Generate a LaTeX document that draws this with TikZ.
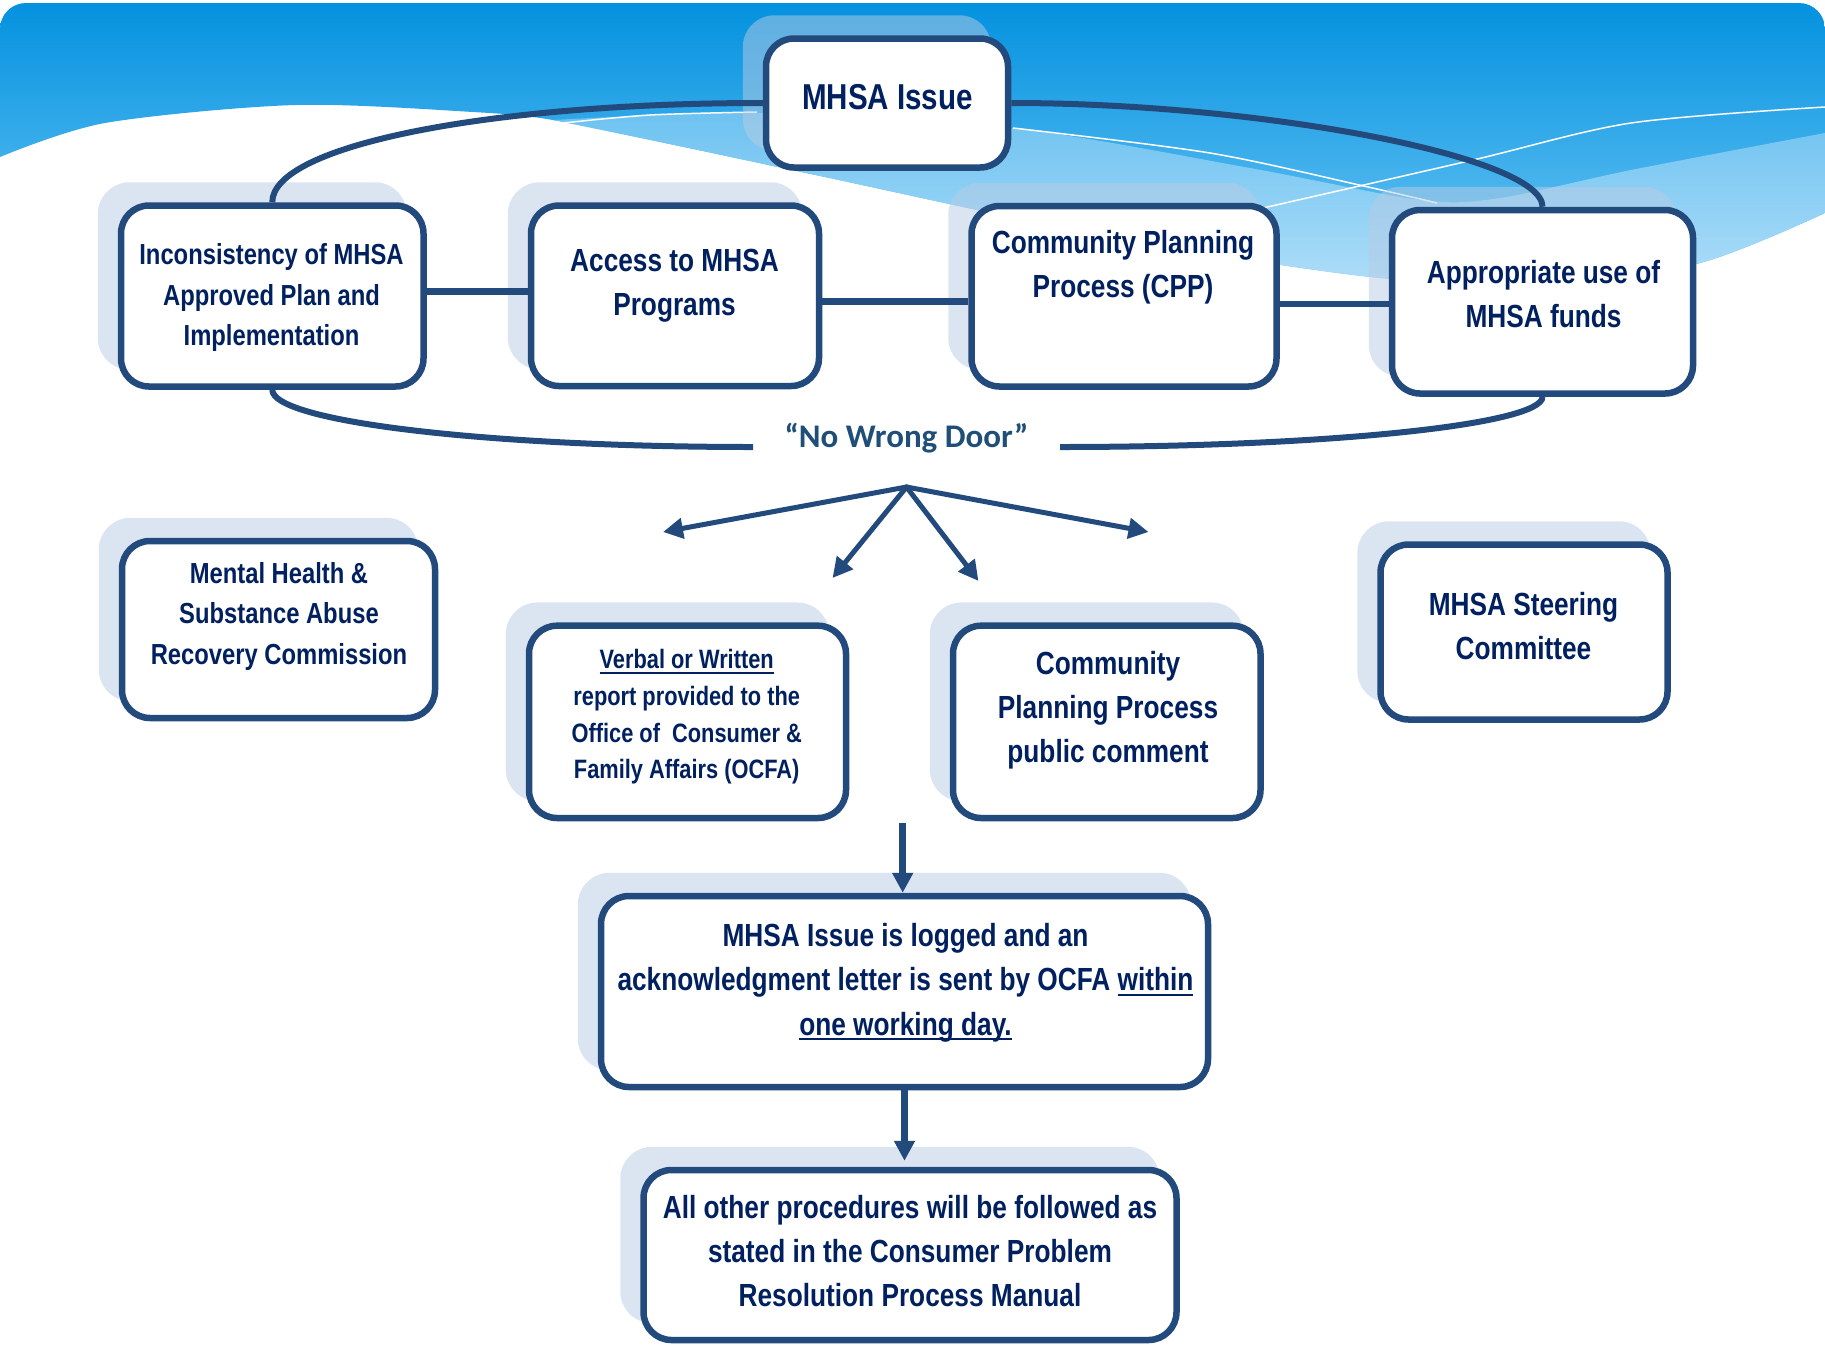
\documentclass[tikz,border=0pt]{standalone}
\usepackage{fontspec}
\setmainfont{Liberation Sans}[FakeStretch=0.82]
\newfontfamily\calib{Carlito}
\usetikzlibrary{arrows.meta,calc}
\definecolor{bord}{HTML}{234A7C}
\definecolor{txtc}{HTML}{002060}
\definecolor{shad}{HTML}{B8CCE4}
\definecolor{blueTop}{HTML}{0391DF}
\definecolor{blueBot}{HTML}{6CC6F5}
\definecolor{lbTop}{HTML}{6DC2F1}
\definecolor{lbBot}{HTML}{AEDDF8}
\definecolor{nwdc}{HTML}{1F4E79}
\pgfdeclarelayer{back}
\pgfdeclarelayer{shadl}
\pgfdeclarelayer{linel}
\pgfsetlayers{back,shadl,linel,main}
\newcommand\ulx[1]{\setbox0\hbox{#1}\rlap{\rule[-5pt]{\wd0}{2pt}}\box0}
\tikzset{
  bx/.style={draw=bord, line width=6.5pt, fill=white, rounded corners=28pt, inner sep=0pt},
  tx/.style 2 args={text=txtc, font=\bfseries\fontsize{#1}{#2}\selectfont, align=center, inner sep=0pt, anchor=north},
  shd/.style={fill=shad, fill opacity=0.5, rounded corners=32pt},
  conn/.style={draw=bord, line width=6.5pt},
  oval/.style={draw=bord, line width=6pt},
  arr/.style={draw=bord, line width=5pt, line cap=round, -{Triangle[length=20pt,width=20pt]}},
  arrv/.style={draw=bord, line width=6.5pt, -{Triangle[length=20pt,width=20pt]}},
  wline/.style={draw=white, line width=1.5pt},
}
\begin{document}
\begin{tikzpicture}[x=1pt,y=-1pt]
\useasboundingbox (0,0) rectangle (1825,1345);

% boxes
\node[bx, minimum width=242pt, minimum height=129pt] (mhsa) at (887,103) {};
\node[bx, minimum width=302.5pt, minimum height=181pt] (inc) at (272.25,296) {};
\node[bx, minimum width=288pt, minimum height=180.5pt] (acc) at (675,295.75) {};
\node[bx, minimum width=305pt, minimum height=180.5pt] (cpp) at (1124,296.25) {};
\node[bx, minimum width=301pt, minimum height=183.5pt] (app) at (1542.5,301.75) {};
\node[bx, minimum width=313pt, minimum height=177pt] (mh) at (278.5,629.5) {};
\node[bx, minimum width=317pt, minimum height=192.3pt] (verb) at (687.5,721.85) {};
\node[bx, minimum width=307.5pt, minimum height=192.3pt] (cpc) at (1106.75,721.85) {};
\node[bx, minimum width=287pt, minimum height=175pt] (steer) at (1524,632) {};
\node[bx, minimum width=607pt, minimum height=191pt] (log) at (904.5,991.5) {};
\node[bx, minimum width=533pt, minimum height=170pt] (all) at (910,1255) {};

% texts
\node[tx={36}{40}] (mhsaT) at (887.5,84) {MHSA Issue};
\node[tx={29}{40.5}] (incT) at (271.5,243.5) {Inconsistency of MHSA\\Approved Plan and\\Implementation};
\node[tx={32}{44}] (accT) at (674.5,249) {Access to MHSA\\Programs};
\node[tx={32}{44}] (cppT) at (1123,230) {Community Planning\\Process (CPP)};
\node[tx={32}{44}] (appT) at (1543.5,260.5) {Appropriate use of\\MHSA funds};
\node[tx={29}{40.7}] (mhT) at (279,562) {Mental Health \&\\Substance Abuse\\Recovery Commission};
\node[tx={26.6}{36.7}] (verbT) at (686.7,649.3) {\ulx{Verbal or Written}\\report provided to the\\Office of~ Consumer \&\\Family Affairs (OCFA)};
\node[tx={32}{44}] (cpcT) at (1108,651) {Community\\Planning Process\\public comment};
\node[tx={32}{44}] (steerT) at (1523.5,592) {MHSA Steering\\Committee};
\node[tx={32}{44.5}] (logT) at (905.5,923) {MHSA Issue is logged and an\\acknowledgment letter is sent by OCFA \ulx{within}\\\ulx{one working day.}};
\node[tx={32}{44}] (allT) at (910,1195.5) {All other procedures will be followed as\\stated in the Consumer Problem\\Resolution Process Manual};

\node[text=nwdc, font=\calib\bfseries\fontsize{33}{40}\selectfont, anchor=base, inner sep=0pt] (nwd) at (906.5,447) {“No Wrong Door”};
\coordinate (gapL) at (753,447);
\coordinate (gapR) at (1060,447);

% arrows
\coordinate (apex) at (906.5,487);
\coordinate (tA) at (663,532);
\coordinate (tB) at (832.5,578);
\coordinate (tC) at (978.5,581);
\coordinate (tD) at (1148.5,532);
\draw[arr] (apex) -- (tA);
\draw[arr] (apex) -- (tB);
\draw[arr] (apex) -- (tC);
\draw[arr] (apex) -- (tD);
\coordinate (a1) at (902.7,822.7);
\draw[arrv] (a1) -- (a1 |- log.north);
\draw[arrv, shorten >=6pt] (log.south) -- (log.south |- all.north);

% background
\begin{pgfonlayer}{back}
\fill[white] (0,0) rectangle (1825,1345);
\begin{scope}
\clip[rounded corners=26pt] (0,3) rectangle (1825,1345);
\shade[top color=blueTop, bottom color=blueBot]
  (0,0) -- (1825,0) -- (1825,213)
  -- plot[smooth] coordinates {(1825,213) (1700,263) (1550,282) (1371,277) (1100,235) (825,177) (684,147) (553,120) (473,112) (295,105) (105,123) (0,157)} -- cycle;
\shade[top color=lbTop, bottom color=lbBot]
  plot[smooth] coordinates {(553,120) (760,113) (1013,128) (1250,168) (1420,200) (1500,198) (1631,170) (1825,133)}
  -- (1825,213)
  -- plot[smooth] coordinates {(1825,213) (1700,263) (1550,282) (1371,277) (1100,235) (825,177) (684,147) (553,120)} -- cycle;
\draw[wline] plot[smooth] coordinates {(563,123) (650,115) (757,112)};
\draw[wline] plot[smooth] coordinates {(1013,128) (1210,153) (1368,187) (1437,203)};
\draw[wline] plot[smooth] coordinates {(1263,208) (1473,160) (1631,123) (1825,107)};
\end{scope}
\end{pgfonlayer}

% shadows
\begin{pgfonlayer}{shadl}
\foreach \b in {mhsa,inc,acc,cpp,app,mh,verb,cpc,steer,log,all}
  \fill[shd] ([shift={(-20,-20)}]\b.north west) rectangle ([shift={(-20,-20)}]\b.south east);
\end{pgfonlayer}

% lines
\begin{pgfonlayer}{linel}
\draw[oval] (inc.north) .. controls +(0,-57) and +(-273,0) .. (mhsa.west);
\draw[oval] (mhsa.east) .. controls +(250,0) and +(0,-50) .. (app.north);
\draw[oval] (inc.south) .. controls +(0,32) and +(-265,0) .. (gapL);
\draw[oval] (gapR) .. controls +(266,0) and +(0,28) .. (app.south);
\draw[conn] ([yshift=4.5pt]inc.east) -- ([yshift=4.25pt]acc.west);
\draw[conn] ([yshift=-5.75pt]acc.east) -- ([yshift=-5.25pt]cpp.west);
\draw[conn] ([yshift=-7.75pt]cpp.east) -- ([yshift=-2.25pt]app.west);
\end{pgfonlayer}
\end{tikzpicture}
\end{document}
